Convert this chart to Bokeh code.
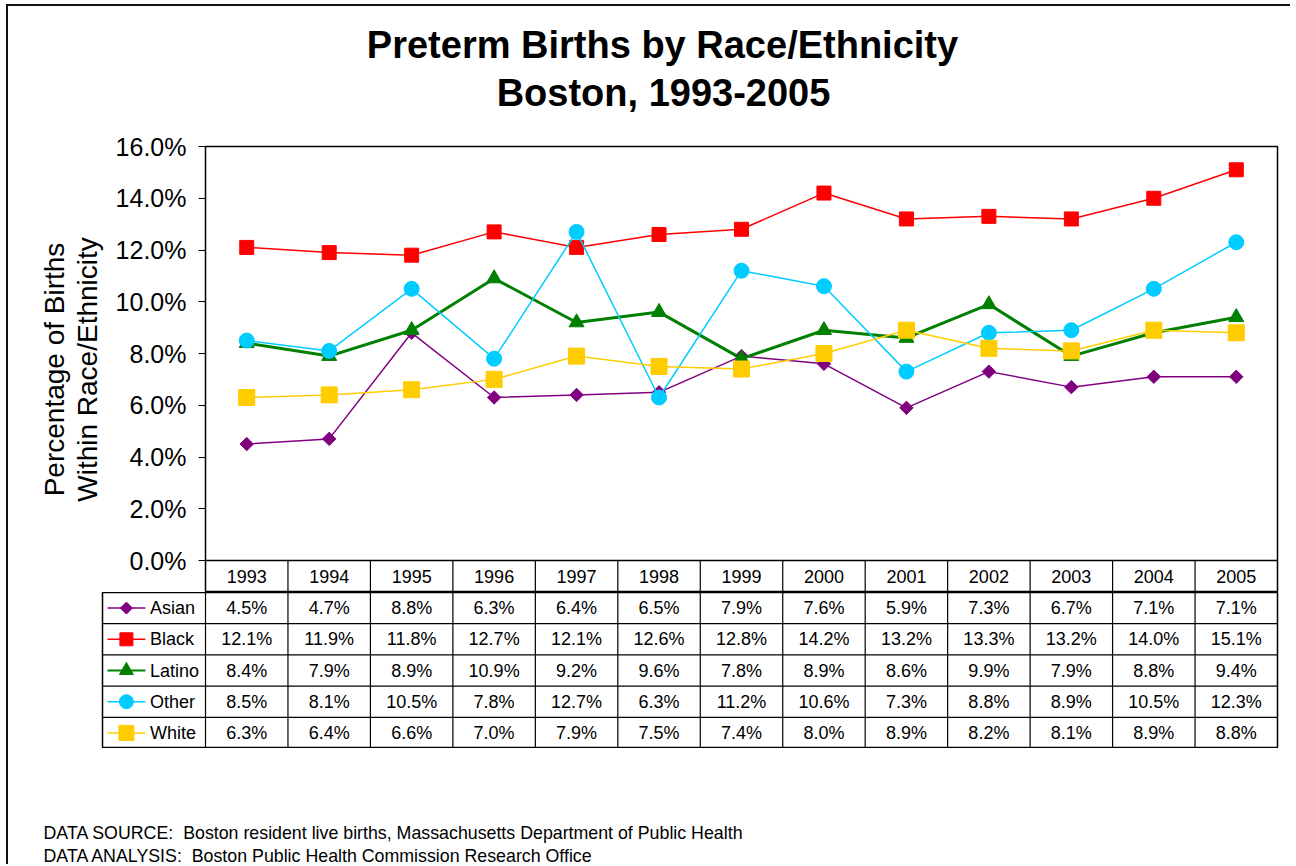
import math
from bokeh.plotting import figure
from bokeh.layouts import column, row
from bokeh.models import Range1d, FixedTicker, NumeralTickFormatter, Span
from bokeh.core.properties import value
from bokeh.embed import file_html
from bokeh.resources import INLINE

# ---------------- data ----------------
years = ["1993", "1994", "1995", "1996", "1997", "1998", "1999",
         "2000", "2001", "2002", "2003", "2004", "2005"]
series_names = ["Asian", "Black", "Latino", "Other", "White"]
asian = [4.5, 4.7, 8.8, 6.3, 6.4, 6.5, 7.9, 7.6, 5.9, 7.3, 6.7, 7.1, 7.1]
black = [12.1, 11.9, 11.8, 12.7, 12.1, 12.6, 12.8, 14.2, 13.2, 13.3, 13.2, 14.0, 15.1]
latino = [8.4, 7.9, 8.9, 10.9, 9.2, 9.6, 7.8, 8.9, 8.6, 9.9, 7.9, 8.8, 9.4]
other = [8.5, 8.1, 10.5, 7.8, 12.7, 6.3, 11.2, 10.6, 7.3, 8.8, 8.9, 10.5, 12.3]
white = [6.3, 6.4, 6.6, 7.0, 7.9, 7.5, 7.4, 8.0, 8.9, 8.2, 8.1, 8.9, 8.8]
y_ticks = [0.0, 0.02, 0.04, 0.06, 0.08, 0.10, 0.12, 0.14, 0.16]

title_line1 = "Preterm Births by Race/Ethnicity"
title_line2 = "Boston, 1993-2005"
y_label = "Percentage of Births\nWithin Race/Ethnicity"
footer1 = "DATA SOURCE:\u00a0 Boston resident live births, Massachusetts Department of Public Health"
footer2 = "DATA ANALYSIS:\u00a0 Boston Public Health Commission Research Office"

# ---------------- styles ----------------
values_all = [asian, black, latino, other, white]
colors = ["#800080", "#FF0000", "#008000", "#00CCFF", "#FFCC00"]
markers = ["square", "square", "triangle", "circle", "square"]
angles = [math.pi / 4, 0, 0, 0, 0]
msizes = [9.5, 14, 15, 15, 16]
lwidths = [1.5, 1.5, 3, 1.5, 1.5]
FONT = "Liberation Sans"
FV = value(FONT)
W = 1282

n = len(years)
xs = list(range(n))

# ---------------- layout geometry ----------------
frame_top, zero_px, header_bottom = 146, 560, 592
y_max = y_ticks[-1]
px_per_unit = (zero_px - frame_top) / y_max
y_min = y_max - (header_bottom - frame_top) / px_per_unit
px_per_col = (1277 - 205) / n
legend_cols = (205 - 102) / px_per_col

# ---------------- title block ----------------
HT = 114
h = figure(width=W, height=HT, title=None, x_range=Range1d(0, W), y_range=Range1d(0, HT),
           x_axis_location=None, y_axis_location=None, output_backend="svg",
           toolbar_location=None, min_border=0)
h.grid.visible = False
h.outline_line_color = None
h.text(x=[654, 655], y=[HT - 38, HT - 86], text=[title_line1, title_line2], text_font=FV,
       text_font_size="38px", text_font_style="bold", text_align="center",
       text_baseline="middle", text_color="black")

# ---------------- main chart ----------------
p = figure(width=W, height=472, title=None,
           x_range=Range1d(-0.5, n - 0.5), y_range=Range1d(y_min, y_max),
           x_axis_location=None, output_backend="svg", toolbar_location=None,
           min_border_left=197, min_border_right=13, min_border_top=26,
           min_border_bottom=0)
p.grid.visible = False
p.outline_line_color = "black"
p.outline_line_width = 1.5
p.background_fill_color = "white"
p.border_fill_color = "white"

ax = p.yaxis[0]
ax.ticker = FixedTicker(ticks=y_ticks)
ax.formatter = NumeralTickFormatter(format="0.0%")
ax.bounds = (0, y_max)
ax.major_tick_out = 7
ax.major_tick_in = 0
ax.minor_tick_out = 0
ax.minor_tick_in = 0
ax.axis_line_color = "black"
ax.major_tick_line_color = "black"
ax.major_label_text_font = FONT
ax.major_label_text_font_size = "25px"
ax.major_label_text_color = "black"
ax.major_label_standoff = 12
ax.axis_label = y_label
ax.axis_label_text_font = FONT
ax.axis_label_text_font_size = "28px"
ax.axis_label_text_font_style = "normal"
ax.axis_label_text_color = "black"
ax.axis_label_text_line_height = 1.05
ax.axis_label_standoff = 10

# header row of data table (years)
p.add_layout(Span(location=0, dimension="width", line_color="black", line_width=1.5))
p.segment(x0=[i + 0.5 for i in range(n - 1)], y0=[y_min] * (n - 1),
          x1=[i + 0.5 for i in range(n - 1)], y1=[0] * (n - 1),
          line_color="black", line_width=1.2)
p.text(x=xs, y=[y_min / 2] * n, text=years, text_font=FV, text_font_size="18px",
       text_align="center", text_baseline="middle", text_color="black")

for vals, c, m, a, s, lw in zip(values_all, colors, markers, angles, msizes, lwidths):
    yv = [v / 100 for v in vals]
    p.line(x=xs, y=yv, line_color=c, line_width=lw)
    p.scatter(x=xs, y=yv, marker=m, angle=a, size=s, fill_color=c, line_color=c)

# ---------------- data table ----------------
nr = len(series_names)
x_left = -0.5 - legend_cols
t = figure(width=W, height=156, title=None,
           x_range=Range1d(x_left, n - 0.5), y_range=Range1d(0, nr),
           x_axis_location=None, y_axis_location=None,
           output_backend="svg", toolbar_location=None,
           min_border_left=94, min_border_right=13, min_border_top=0,
           min_border_bottom=0)
t.grid.visible = False
t.outline_line_color = "black"
t.outline_line_width = 1.5
t.border_fill_color = "white"

t.segment(x0=[x_left] * (nr - 1), y0=list(range(1, nr)),
          x1=[n - 0.5] * (nr - 1), y1=list(range(1, nr)),
          line_color="black", line_width=1.2)
t.segment(x0=[i - 0.5 for i in range(n)], y0=[0] * n,
          x1=[i - 0.5 for i in range(n)], y1=[nr] * n,
          line_color="black", line_width=1.2)

for r, (name, vals, c, m, a, s, lw) in enumerate(zip(series_names, values_all, colors,
                                                     markers, angles, msizes, lwidths)):
    yc = nr - r - 0.5
    t.text(x=xs, y=[yc] * n, text=[f"{v:.1f}%" for v in vals], text_font=FV,
           text_font_size="18px", text_align="center", text_baseline="middle",
           text_color="black")
    lx0 = x_left + 0.06
    lx1 = x_left + 0.52
    t.line(x=[lx0, lx1], y=[yc, yc], line_color=c, line_width=min(lw, 2))
    t.scatter(x=[(lx0 + lx1) / 2], y=[yc], marker=m, angle=a, size=s - 1,
              fill_color=c, line_color=c)
    t.text(x=[x_left + 0.575], y=[yc], text=[name], text_font=FV, text_font_size="18px",
           text_align="left", text_baseline="middle", text_color="black")

# ---------------- footer ----------------
f = figure(width=W, height=116, title=None, x_range=Range1d(0, W),
           y_range=Range1d(0, 116), x_axis_location=None, y_axis_location=None,
           output_backend="svg", toolbar_location=None, min_border=0)
f.grid.visible = False
f.outline_line_color = None
f.text(x=[35, 35], y=[32, 9], text=[footer1, footer2], text_font=FV,
       text_font_size="17.8px", text_align="left", text_baseline="middle",
       text_color="black")

layout = column(row(h), p, row(t), row(f),
                styles={"border-left": "2px solid #111",
                        "border-top": "2px solid #111",
                        "margin-left": "6px", "margin-top": "4px",
                        "background-color": "white"})

open("out.html", "w").write(file_html(layout, INLINE))
